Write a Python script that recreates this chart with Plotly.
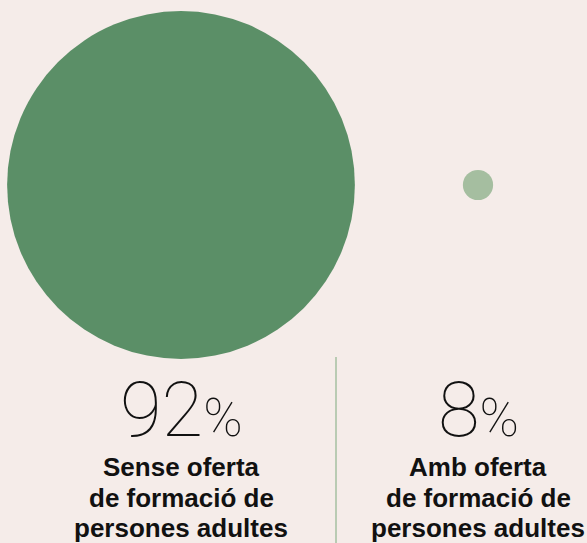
import plotly.graph_objects as go

# share of centres with / without adult education offer
labels = ["Sense oferta<br>de formació de<br>persones adultes",
          "Amb oferta<br>de formació de<br>persones adultes"]
values = [92, 8]
x_pos = [181, 478]
colors = ["#5b8f67", "#a5bea0"]

bg = "#f5ece9"

fig = go.Figure()

fig.add_trace(go.Scatter(
    x=x_pos, y=[185, 185], mode="markers",
    marker=dict(size=values, sizemode="diameter", sizeref=1 / 3.78,
                color=colors, opacity=1, line=dict(width=0)),
    cliponaxis=False, hoverinfo="skip", showlegend=False,
))

# divider
fig.add_shape(type="line", x0=336, x1=336, y0=357, y1=543,
              line=dict(color="#b9cbb3", width=2))

for x, v, lab in zip(x_pos, values, labels):
    fig.add_annotation(
        x=x, y=410, xref="x", yref="y", showarrow=False,
        text=f"{v}<span style='font-size:53px'>%</span>",
        font=dict(family="Roboto", size=76, color="#111111", weight=100),
        yanchor="middle", xanchor="center",
    )
    for i, line in enumerate(lab.split("<br>")):
        fig.add_annotation(
            x=x, y=467 + i * 30.5, xref="x", yref="y", showarrow=False,
            text=line,
            font=dict(family="Liberation Sans", size=26, color="#111111", weight="bold"),
            yanchor="middle", xanchor="center",
        )

fig.update_layout(
    width=587, height=543,
    margin=dict(l=0, r=0, t=0, b=0),
    paper_bgcolor=bg, plot_bgcolor=bg,
    xaxis=dict(range=[0, 587], visible=False, fixedrange=True),
    yaxis=dict(range=[543, 0], visible=False, fixedrange=True),
)

fig.write_html("out.html", post_script="document.body.style.margin='0';",
               config={"displayModeBar": False})
